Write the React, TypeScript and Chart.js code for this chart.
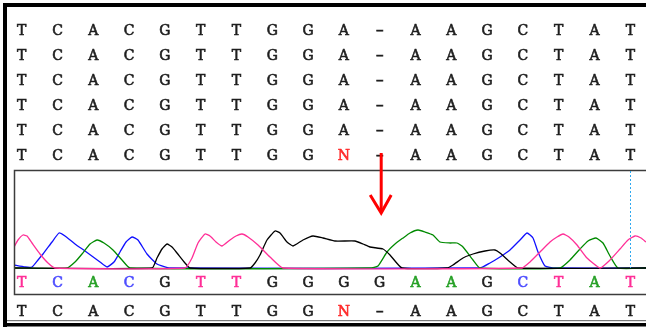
import { useEffect, useRef } from "react";
import { Chart, registerables } from "chart.js";

Chart.register(...registerables);

// Sample positions of each alignment column along the trace (scan units)
const columnPos = [7.7, 43.5, 79.3, 115.1, 150.9, 186.7, 222.5, 258.3, 294.1, 329.9, 365.7, 401.5, 437.3, 473.1, 508.9, 544.7, 580.5, 616.3];

// Aligned reads shown above the trace
const alignedReads = [
  "TCACGTTGGA-AAGCTAT",
  "TCACGTTGGA-AAGCTAT",
  "TCACGTTGGA-AAGCTAT",
  "TCACGTTGGA-AAGCTAT",
  "TCACGTTGGA-AAGCTAT",
  "TCACGTTGGN-AAGCTAT",
];
// Base calls of this trace and the consensus line
const calledBases = "TCACGTTGGGGAAGCTAT";
const consensus = "TCACGTTGGN-AAGCTAT";
const markedColumn = 10;
const cursorColumn = 17;

// Fluorescence traces: [scan, intensity]
const traceT: [number, number][] = [
  [0, 21], [4, 28], [9, 33], [13, 32], [18, 25], [26, 14], [34, 5], [41, 0],
  [171, 0], [178, 10], [184, 25], [191, 34], [196, 32], [202, 26], [208, 22],
  [216, 28], [222, 32], [228, 34], [234, 31], [244, 23], [256, 11], [269, 0],
  [508, 0], [516, 6], [526, 16], [536, 26], [543, 31], [549, 34], [555, 31],
  [563, 23], [573, 10], [586, 0], [596, 8], [606, 19], [614, 28], [621, 32],
  [627, 30], [632, 26],
];
const traceC: [number, number][] = [
  [0, 3], [11, 1], [18, 1], [24, 8], [29, 14], [38, 26], [45, 35], [51, 32],
  [61, 24], [71, 17], [86, 6], [93, 1], [100, 6], [106, 16], [112, 26],
  [118, 31], [124, 28], [133, 14], [143, 4], [156, 0],
  [466, 0], [476, 5], [486, 11], [496, 18], [506, 28], [513, 35], [519, 30],
  [524, 16], [531, 2], [541, 0], [632, 0],
];
const traceA: [number, number][] = [
  [0, 0], [53, 0], [61, 6], [68, 14], [76, 24], [83, 28], [90, 25], [99, 18],
  [108, 8], [116, 0], [356, 0], [364, 2], [373, 16], [381, 24], [389, 30],
  [396, 35], [404, 38], [411, 36], [419, 33], [426, 26], [436, 25], [443, 25],
  [449, 21], [459, 8], [466, 0], [546, 0], [556, 8], [566, 19], [574, 27],
  [582, 30], [589, 25], [596, 12], [604, 0], [632, 0],
];
const traceG: [number, number][] = [
  [0, 0], [138, 0], [143, 10], [148, 19], [153, 24], [158, 21], [163, 15],
  [171, 5], [176, 0], [236, 0], [241, 5], [246, 13], [253, 28], [261, 37],
  [266, 35], [273, 26], [279, 22], [289, 28], [299, 32], [309, 30], [321, 27],
  [341, 27], [349, 24], [356, 21], [369, 19], [376, 13], [388, 0], [433, 0],
  [439, 3], [449, 10], [459, 14], [471, 17], [481, 18], [486, 15], [496, 6],
  [504, 0], [632, 0],
];

const baseColor: Record<string, string> = {
  T: "#ff2f97",
  C: "#4d4dff",
  A: "#26a026",
  G: "#1e1e1e",
  N: "#ff2a2a",
  "-": "#1e1e1e",
};
const readColor = "#1e1e1e";
const letterFont = '14px "DejaVu Serif"';

const readRowsY = [31.7, 56.7, 81.7, 106.7, 131.7, 156.7];
const calledRowY = 283;
const consensusRowY = 312;

function drawLetter(ctx: CanvasRenderingContext2D, ch: string, x: number, y: number, color: string) {
  ctx.save();
  ctx.fillStyle = color;
  ctx.strokeStyle = color;
  ctx.translate(x, y);
  // gap dashes are drawn as wide as a monospace cell
  if (ch === "-") ctx.scale(1.7, 1);
  ctx.fillText(ch, 0, 0);
  ctx.strokeText(ch, 0, 0);
  ctx.restore();
}

const layoutPlugin = {
  id: "alignmentLayout",
  afterDraw(chart: Chart) {
    const { ctx, chartArea } = chart;
    const xs = chart.scales.x;
    const W = chart.width;
    ctx.save();

    // outer window frame
    ctx.fillStyle = "#000";
    ctx.fillRect(3, 3, W - 3, 4);
    ctx.fillRect(3, 3, 4, 324);
    ctx.fillRect(3, 323, W - 3, 3.5);
    ctx.fillStyle = "#777";
    ctx.fillRect(7, 320, W - 7, 1.2);

    // trace panel
    ctx.strokeStyle = "#3c3c3c";
    ctx.lineWidth = 1.5;
    ctx.beginPath();
    ctx.moveTo(W, chartArea.top + 0.5);
    ctx.lineTo(chartArea.left + 0.5, chartArea.top + 0.5);
    ctx.lineTo(chartArea.left + 0.5, chartArea.bottom - 0.5);
    ctx.lineTo(W, chartArea.bottom - 0.5);
    ctx.stroke();

    // cursor
    const cx = Math.round(xs.getPixelForValue(columnPos[cursorColumn])) + 0.5;
    ctx.strokeStyle = "#2ea8f0";
    ctx.lineWidth = 1;
    ctx.setLineDash([2, 2]);
    ctx.beginPath();
    ctx.moveTo(cx, chartArea.top + 1);
    ctx.lineTo(cx, chart.scales.y.getPixelForValue(0));
    ctx.stroke();
    ctx.setLineDash([]);

    // letters
    ctx.font = letterFont;
    ctx.textAlign = "center";
    ctx.textBaseline = "middle";
    ctx.lineWidth = 0.6;
    alignedReads.forEach((seq, r) => {
      for (let i = 0; i < seq.length; i++) {
        const ch = seq[i];
        drawLetter(ctx, ch, xs.getPixelForValue(columnPos[i]), readRowsY[r], ch === "N" ? baseColor.N : readColor);
      }
    });
    for (let i = 0; i < calledBases.length; i++) {
      const ch = calledBases[i];
      drawLetter(ctx, ch, xs.getPixelForValue(columnPos[i]), calledRowY, baseColor[ch]);
    }
    for (let i = 0; i < consensus.length; i++) {
      const ch = consensus[i];
      drawLetter(ctx, ch, xs.getPixelForValue(columnPos[i]), consensusRowY, ch === "N" ? baseColor.N : readColor);
    }

    // marker arrow at the inserted column
    const ax = xs.getPixelForValue(columnPos[markedColumn]) + 1.5;
    ctx.strokeStyle = "#ff0000";
    ctx.lineWidth = 3;
    ctx.lineJoin = "miter";
    ctx.beginPath();
    ctx.moveTo(ax, 153);
    ctx.lineTo(ax, 212);
    ctx.stroke();
    ctx.beginPath();
    ctx.moveTo(ax - 11, 195);
    ctx.lineTo(ax, 213);
    ctx.lineTo(ax + 10, 195);
    ctx.stroke();

    ctx.restore();
  },
};

function toPoints(t: [number, number][]) {
  return t.map(([x, y]) => ({ x, y }));
}

export default function App() {
  const ref = useRef<HTMLCanvasElement | null>(null);

  useEffect(() => {
    if (!ref.current) return;
    const common = { pointRadius: 0, borderWidth: 1.3, tension: 0.15, fill: false };
    const chart = new Chart(ref.current, {
      type: "line",
      data: {
        datasets: [
          { ...common, label: "T", data: toPoints(traceT), borderColor: baseColor.T, order: 0 },
          { ...common, label: "G", data: toPoints(traceG), borderColor: "#000000", order: 1 },
          { ...common, label: "A", data: toPoints(traceA), borderColor: "#008a00", order: 2 },
          { ...common, label: "C", data: toPoints(traceC), borderColor: "#1010ff", order: 3 },
        ],
      },
      options: {
        animation: false,
        responsive: false,
        devicePixelRatio: 1,
        events: [],
        layout: { padding: { left: 14, right: 0, top: 170, bottom: 33 } },
        scales: {
          x: { type: "linear", min: 0, max: 632, display: false },
          y: { type: "linear", min: -27, max: 98, display: false },
        },
        plugins: { legend: { display: false }, tooltip: { enabled: false } },
      },
      plugins: [layoutPlugin],
    });
    return () => chart.destroy();
  }, []);

  return (
    <div style={{ position: "fixed", left: 0, top: 0, width: 646, height: 328, background: "#fff" }}>
      <canvas ref={ref} width={646} height={328} style={{ display: "block" }} />
    </div>
  );
}
